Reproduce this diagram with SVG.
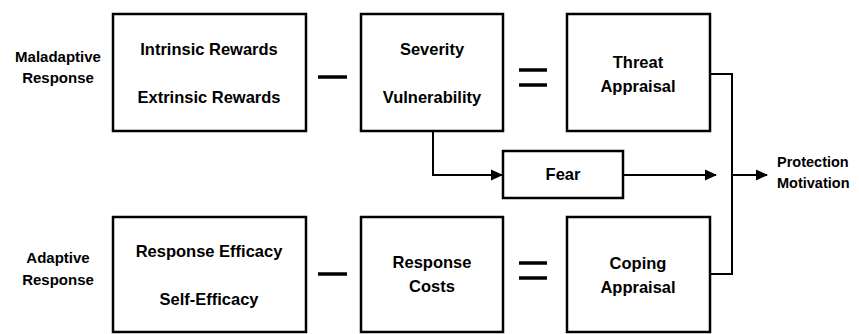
<svg xmlns="http://www.w3.org/2000/svg" width="859" height="334" viewBox="0 0 859 334">
<style>
.box{fill:#fff;stroke:#000;stroke-width:2.5}
.t{font-family:"Liberation Sans",Arial,sans-serif;font-weight:bold;font-size:16.5px;fill:#000;text-anchor:middle}
.s{font-size:15px}
.l{text-anchor:start;font-size:14.5px}
.c{fill:none;stroke:#000;stroke-width:2}
.op{stroke:#000;stroke-width:3.5}
</style>
<defs>
<marker id="ah" markerWidth="12" markerHeight="12" refX="11" refY="6" orient="auto" markerUnits="userSpaceOnUse">
<path d="M0,0.5 L12,6 L0,11.5 Z" fill="#000"/>
</marker>
</defs>
<rect width="859" height="334" fill="#fff"/>
<g id="connectors">
<polyline class="c" points="710,74 732,74 732,274 710,274"/>
<polyline class="c" points="433,131 433,175 502,175" marker-end="url(#ah)"/>
<line class="c" x1="623" y1="175" x2="716" y2="175" marker-end="url(#ah)"/>
<line class="c" x1="732" y1="175" x2="767" y2="175" marker-end="url(#ah)"/>
</g>
<g id="operators">
<line class="op" x1="318" y1="77" x2="347" y2="77"/>
<line class="op" x1="318" y1="274" x2="347" y2="274"/>
<line class="op" x1="519" y1="70" x2="547" y2="70"/>
<line class="op" x1="519" y1="85" x2="547" y2="85"/>
<line class="op" x1="519" y1="263" x2="547" y2="263"/>
<line class="op" x1="519" y1="278" x2="547" y2="278"/>
</g>
<g id="label-maladaptive">
<text class="t s" x="58" y="62">Maladaptive</text>
<text class="t s" x="58" y="83">Response</text>
</g>
<g id="label-adaptive">
<text class="t s" x="58" y="263">Adaptive</text>
<text class="t s" x="58" y="285">Response</text>
</g>
<g id="rewards">
<rect class="box" x="113" y="14" width="193" height="117"/>
<text class="t" x="209" y="55">Intrinsic Rewards</text>
<text class="t" x="209" y="103">Extrinsic Rewards</text>
</g>
<g id="severity">
<rect class="box" x="361" y="14" width="142" height="117"/>
<text class="t" x="432" y="55">Severity</text>
<text class="t" x="432" y="103">Vulnerability</text>
</g>
<g id="threat">
<rect class="box" x="567" y="14" width="143" height="117"/>
<text class="t" x="638" y="68">Threat</text>
<text class="t" x="638" y="92">Appraisal</text>
</g>
<g id="fear">
<rect class="box" x="503" y="151" width="120" height="47"/>
<text class="t" x="563" y="180">Fear</text>
</g>
<g id="efficacy">
<rect class="box" x="113" y="217" width="193" height="115"/>
<text class="t" x="209" y="257">Response Efficacy</text>
<text class="t" x="209" y="305">Self-Efficacy</text>
</g>
<g id="costs">
<rect class="box" x="361" y="217" width="142" height="115"/>
<text class="t" x="432" y="268">Response</text>
<text class="t" x="432" y="292">Costs</text>
</g>
<g id="coping">
<rect class="box" x="567" y="217" width="143" height="115"/>
<text class="t" x="638" y="269">Coping</text>
<text class="t" x="638" y="293">Appraisal</text>
</g>
<g id="protection">
<text class="t l" x="777" y="167">Protection</text>
<text class="t l" x="777" y="188">Motivation</text>
</g>
</svg>
